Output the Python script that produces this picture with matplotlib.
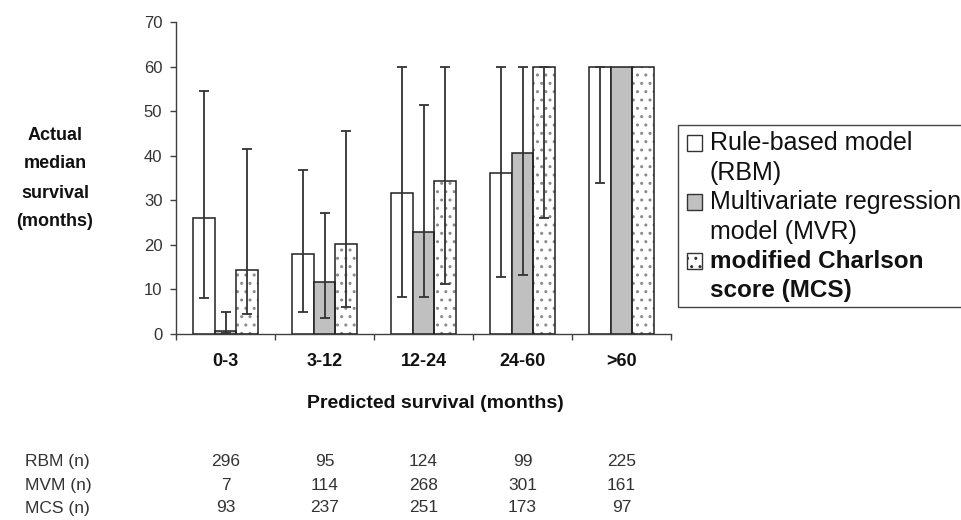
import matplotlib
matplotlib.use("Agg")
import matplotlib.pyplot as plt
import numpy as np
from matplotlib.patches import Rectangle
from matplotlib.transforms import blended_transform_factory

plt.rcParams['font.family'] = ['Liberation Sans', 'DejaVu Sans']
plt.rcParams['hatch.linewidth'] = 1.0

# ---- data ----
categories = ['0-3', '3-12', '12-24', '24-60', '>60']
series_names = ['RBM', 'MVR', 'MCS']
rbm_vals = [26.1, 17.9, 31.7, 36.2, 60.0]
rbm_lo = [8.1, 4.9, 8.4, 12.9, 33.9]
rbm_hi = [54.6, 36.9, 60.0, 60.0, 60.0]
mvr_vals = [0.7, 11.7, 22.9, 40.7, 60.0]
mvr_lo = [0.2, 3.5, 8.4, 13.2, np.nan]
mvr_hi = [5.0, 27.1, 51.3, 60.0, np.nan]
mcs_vals = [14.3, 20.3, 34.3, 60.0, 60.0]
mcs_lo = [4.6, 6.1, 11.2, 26.1, np.nan]
mcs_hi = [41.5, 45.5, 60.0, 60.0, np.nan]
legend_lines = [('Rule-based model', '(RBM)', 'normal'),
                ('Multivariate regression', 'model (MVR)', 'normal'),
                ('modified Charlson', 'score (MCS)', 'bold')]
table_rows = ['RBM (n)', 'MVM (n)', 'MCS (n)']
rbm_n = [296, 95, 124, 99, 225]
mvm_n = [7, 114, 268, 301, 161]
mcs_n = [93, 237, 251, 173, 97]
yticks = [0, 10, 20, 30, 40, 50, 60, 70]

W, H = 962, 520
fig = plt.figure(figsize=(W / 100, H / 100), dpi=100)
ax = fig.add_axes([176 / W, 1 - 334 / H, (671 - 176) / W, (334 - 22.1) / H])

x = np.arange(len(categories))
bw = 0.22
edge = '#202020'
ecol = '#333333'
vals = [rbm_vals, mvr_vals, mcs_vals]
los = [rbm_lo, mvr_lo, mcs_lo]
his = [rbm_hi, mvr_hi, mcs_hi]
faces = ['white', '#c0c0c0', 'white']

for i in range(3):
    pos = x + (i - 1) * bw
    v = np.array(vals[i])
    if i == 2:
        ax.bar(pos, v, bw, facecolor='white', edgecolor='#8a8a8a', hatch='..', linewidth=0, zorder=2)
        ax.bar(pos, v, bw, facecolor='none', edgecolor=edge, linewidth=1.1, zorder=3)
    else:
        ax.bar(pos, v, bw, facecolor=faces[i], edgecolor=edge, linewidth=1.1, zorder=3)
    lo = v - np.array(los[i])
    hi = np.array(his[i]) - v
    ax.errorbar(pos, v, yerr=[lo, hi], fmt='none', ecolor=ecol, elinewidth=1.3,
                capsize=3.6, capthick=1.3, zorder=4)

ax.set_xlim(-0.5, len(categories) - 0.5)
ax.set_ylim(0, 70)
ax.set_yticks(yticks)
ax.set_yticklabels([str(t) for t in yticks])
ax.set_xticks(np.arange(len(categories) + 1) - 0.5)
ax.set_xticklabels([])
ax.set_xticks(x, minor=True)
ax.set_xticklabels(categories, minor=True, fontweight='bold', fontsize=13, color='#111111')
ax.tick_params(axis='x', which='minor', length=0, pad=14)
ax.tick_params(axis='x', which='major', length=4.3, width=1.0, color='#404040', direction='out')
ax.tick_params(axis='y', length=4.3, width=1.0, color='#404040', direction='out',
               labelsize=12, labelcolor='#333333', pad=5.5)
for s in ['top', 'right']:
    ax.spines[s].set_visible(False)
for s in ['left', 'bottom']:
    ax.spines[s].set_color('#404040')
    ax.spines[s].set_linewidth(1.0)

# axis titles
ytl = ['Actual', 'median', 'survival', '(months)']
for k, t in enumerate(ytl):
    fig.text(55 / W, 1 - (135 + k * 29) / H, t, ha='center', va='center',
             fontsize=13, fontweight='bold', color='#111111')
fig.text(435 / W, 1 - 403 / H, 'Predicted survival (months)', ha='center', va='center',
         fontsize=14, fontweight='bold', color='#111111')

# legend (manual)
fig.add_artist(Rectangle((677.7 / W, 1 - 306.7 / H), (1000 - 677.7) / W, (306.7 - 125) / H,
                         transform=fig.transFigure, facecolor='white', edgecolor='#444444',
                         linewidth=1.0))
line_y = [143, 173, 202, 232, 261, 290]
for k, (l1, l2, wt) in enumerate(legend_lines):
    y1 = line_y[2 * k]
    y2 = line_y[2 * k + 1]
    fs = 17.5 if wt == 'bold' else 18
    sq = Rectangle((687 / W, 1 - (y1 + 8) / H), 15 / W, 16 / H, transform=fig.transFigure,
                   facecolor=faces[k], edgecolor='#333333', linewidth=1.0,
                   hatch='..' if k == 2 else None)
    fig.add_artist(sq)
    fig.text(710 / W, 1 - y1 / H, l1, ha='left', va='center', fontsize=fs, fontweight=wt, color='#111111')
    fig.text(710 / W, 1 - y2 / H, l2, ha='left', va='center', fontsize=fs, fontweight=wt, color='#111111')

# table of counts
tr = blended_transform_factory(ax.transData, fig.transFigure)
row_y = [461.7, 485.7, 508]
for r, (name, counts) in enumerate(zip(table_rows, [rbm_n, mvm_n, mcs_n])):
    fig.text(25 / W, 1 - row_y[r] / H, name, ha='left', va='center', fontsize=12.5, color='#333333')
    for xi, c in zip(x, counts):
        ax.text(xi, 1 - row_y[r] / H, str(c), transform=tr, ha='center', va='center',
                fontsize=12.5, color='#333333')

fig.savefig('out.png', dpi=100)
